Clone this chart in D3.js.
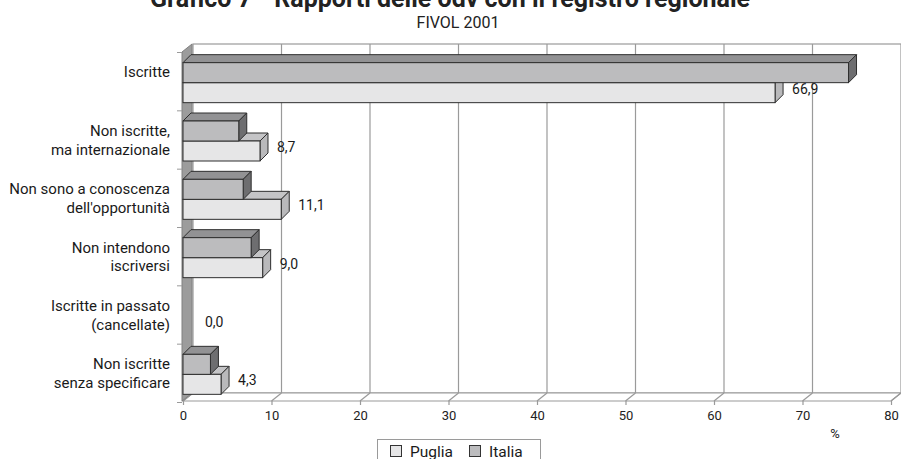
<!DOCTYPE html>
<html>
<head>
<meta charset="utf-8">
<script src="https://cdn.jsdelivr.net/npm/d3@7/dist/d3.min.js"></script>
<style>
  html, body { margin: 0; padding: 0; background: #fff; }
  svg { display: block; font-family: Roboto, "DejaVu Sans", sans-serif; }
</style>
</head>
<body>
<svg id="chart" width="901" height="459"></svg>
<script>
// Categories (top to bottom) and the two series, in percent
const categories = [
  ["Iscritte"],
  ["Non iscritte,", "ma internazionale"],
  ["Non sono a conoscenza", "dell'opportunità"],
  ["Non intendono", "iscriversi"],
  ["Iscritte in passato", "(cancellate)"],
  ["Non iscritte", "senza specificare"]
];
const puglia = [66.9, 8.7, 11.1, 9.0, 0.0, 4.3];
const italia = [75.2, 6.3, 6.8, 7.7, 0.0, 3.1];
const seriesNames = ["Puglia", "Italia"];
const xTicks = [0, 10, 20, 30, 40, 50, 60, 70, 80];

const titleText = "Grafico 7 - Rapporti delle odv con il registro regionale";
const subtitleText = "FIVOL 2001";

const svg = d3.select("#chart");

// 3D geometry: wall depth and bar depth
const DX = 10, DY = -8;
const BDX = 8, BDY = -8;

const x = d3.scaleLinear().domain([0, 80]).range([183, 891]);
const catKeys = categories.map(c => c.join(" "));
const y = d3.scaleBand().domain(catKeys).range([52.5, 402.5]);
const floorY = 401;
const topY = 52;

const colors = {
  Puglia: { front: "#e6e6e7", top: "#c4c4c6", side: "#b9b9bb" },
  Italia: { front: "#bcbcbe", top: "#929294", side: "#6e6e70" }
};

// Titles
svg.append("text")
  .attr("x", 450).attr("y", 7)
  .attr("text-anchor", "middle")
  .attr("font-size", 25).attr("font-weight", "bold").attr("fill", "#222")
  .text(titleText);
svg.append("text")
  .attr("x", 458).attr("y", 28)
  .attr("text-anchor", "middle")
  .attr("font-size", 16).attr("fill", "#222")
  .text(subtitleText);

// Back wall
const x0 = x(0), x1 = x(80);
svg.append("rect")
  .attr("x", x0 + DX).attr("y", topY + DY)
  .attr("width", x1 - x0).attr("height", floorY - topY)
  .attr("fill", "#fff").attr("stroke", "#9a9a9a").attr("stroke-width", 1.2);

// Back gridlines
svg.append("g").selectAll("line").data(xTicks.slice(1, -1)).join("line")
  .attr("x1", d => x(d) + DX).attr("x2", d => x(d) + DX)
  .attr("y1", topY + DY).attr("y2", floorY + DY)
  .attr("stroke", "#9a9a9a").attr("stroke-width", 1.2);

// Floor
svg.append("path")
  .attr("d", `M${x0},${floorY}L${x0 + DX},${floorY + DY}L${x1 + DX},${floorY + DY}L${x1},${floorY}Z`)
  .attr("fill", "#fff").attr("stroke", "#9a9a9a").attr("stroke-width", 1.2);
svg.append("g").selectAll("line").data(xTicks).join("line")
  .attr("x1", d => x(d)).attr("x2", d => x(d) + DX)
  .attr("y1", floorY).attr("y2", floorY + DY)
  .attr("stroke", "#9a9a9a").attr("stroke-width", 1.2);

// Left wall
svg.append("path")
  .attr("d", `M${x0 - 1},${topY}L${x0 - 1 + DX},${topY + DY}L${x0 - 1 + DX},${floorY + DY}L${x0 - 1},${floorY}Z`)
  .attr("fill", "#9c9c9c").attr("stroke", "#808080").attr("stroke-width", 1);

// Left category ticks
const bounds = catKeys.map(k => y(k)).concat([y.range()[1]]);
svg.append("g").selectAll("line").data(bounds).join("line")
  .attr("x1", x0 - 6).attr("x2", x0 - 1)
  .attr("y1", d => d).attr("y2", d => d)
  .attr("stroke", "#9a9a9a").attr("stroke-width", 1);

// Bottom axis
const axis = d3.axisBottom(x).tickValues(xTicks).tickSize(4).tickPadding(6).tickFormat(d3.format("d"));
const axG = svg.append("g").attr("transform", `translate(0,${floorY})`).call(axis);
axG.select(".domain").remove();
axG.selectAll("line").attr("stroke", "#9a9a9a").attr("stroke-width", 1.2);
axG.selectAll("text").attr("font-size", 13).attr("fill", "#222")
  .attr("font-family", "Roboto, 'DejaVu Sans', sans-serif");

svg.append("text")
  .attr("x", 835).attr("y", 438)
  .attr("text-anchor", "middle").attr("font-size", 13).attr("fill", "#222")
  .text("%");

// Category labels, centred on each band
const labG = svg.append("g");
categories.forEach((lines, i) => {
  const c = y(catKeys[i]) + y.bandwidth() / 2;
  const t = labG.append("text")
    .attr("x", 170).attr("text-anchor", "end")
    .attr("font-size", 15).attr("fill", "#1a1a1a");
  const y0 = c + 5 - (lines.length === 1 ? 10 : 9);
  lines.forEach((ln, j) => {
    t.append("tspan").attr("x", 170).attr("y", y0 + j * 18.5).text(ln);
  });
});

// 3D bar
function bar(g, xa, xb, ya, yb, col) {
  g.append("path")
    .attr("d", `M${xa},${ya}L${xa + BDX},${ya + BDY}L${xb + BDX},${ya + BDY}L${xb},${ya}Z`)
    .attr("fill", col.top).attr("stroke", "#2e2e2e").attr("stroke-width", 1).attr("stroke-linejoin", "round");
  g.append("path")
    .attr("d", `M${xb},${ya}L${xb + BDX},${ya + BDY}L${xb + BDX},${yb + BDY}L${xb},${yb}Z`)
    .attr("fill", col.side).attr("stroke", "#2e2e2e").attr("stroke-width", 1).attr("stroke-linejoin", "round");
  g.append("rect")
    .attr("x", xa).attr("y", ya).attr("width", xb - xa).attr("height", yb - ya)
    .attr("fill", col.front).attr("stroke", "#2e2e2e").attr("stroke-width", 1);
}

const fmt = v => d3.format(".1f")(v).replace(".", ",");
const barsG = svg.append("g");
catKeys.forEach((k, i) => {
  const c = y(k) + y.bandwidth() / 2;
  // Puglia sits below Italia; draw it first so Italia overlaps its top face
  if (puglia[i] > 0) bar(barsG, x(0), x(puglia[i]), c + 1, c + 21, colors.Puglia);
  if (italia[i] > 0) bar(barsG, x(0), x(italia[i]), c - 19, c + 1, colors.Italia);
  barsG.append("text")
    .attr("x", x(puglia[i]) + BDX + 9 + (puglia[i] === 0 ? 5 : 0))
    .attr("y", c + 12)
    .attr("font-size", 14).attr("fill", "#1a1a1a")
    .text(fmt(puglia[i]));
});

// Legend
const lg = svg.append("g");
lg.append("rect").attr("x", 377.5).attr("y", 439.5).attr("width", 163).attr("height", 30)
  .attr("fill", "#fff").attr("stroke", "#9a9a9a").attr("stroke-width", 1);
const legX = [390, 469];
seriesNames.forEach((s, i) => {
  lg.append("rect").attr("x", legX[i] + 0.5).attr("y", 445.5).attr("width", 11).attr("height", 11)
    .attr("fill", colors[s].front).attr("stroke", "#333").attr("stroke-width", 1);
  lg.append("text").attr("x", legX[i] + 20).attr("y", 456.5)
    .attr("font-size", 15.5).attr("fill", "#1a1a1a").text(s);
});
</script>
</body>
</html>
